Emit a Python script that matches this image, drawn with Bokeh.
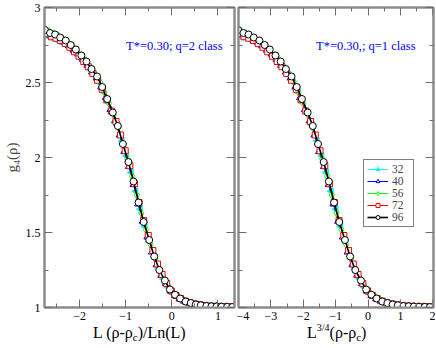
import math
from bokeh.plotting import figure
from bokeh.layouts import row, column
from bokeh.models import FixedTicker, LinearAxis, Range1d, Label, Legend, LegendItem, Div, Spacer
from bokeh.embed import file_html
from bokeh.resources import INLINE

SERIF = "Liberation Serif"
GRAY = "#8c8c8c"
TICK = "#6e6e6e"

# system sizes (legend)
sizes = [32, 40, 56, 72, 96]

# x values in the left-panel variable  L(rho-rho_c)/Ln(L)
x32 = [-2.78, -2.68, -2.58, -2.48, -2.38, -2.28, -2.18, -2.08, -1.98, -1.88, -1.78, -1.68, -1.58, -1.48,
       -1.38, -1.28, -1.18, -1.08, -0.98, -0.88, -0.78, -0.68, -0.58, -0.48, -0.38, -0.28, -0.18, -0.08,
       0.02, 0.12, 0.22, 0.32, 0.42, 0.52, 0.62, 0.72, 0.82, 0.92, 1.02, 1.12, 1.22, 1.32]
y32 = [2.82, 2.805, 2.795, 2.78, 2.765, 2.745, 2.72, 2.695, 2.665, 2.63, 2.59, 2.55, 2.50, 2.435,
       2.365, 2.29, 2.215, 2.11, 2.01, 1.90, 1.775, 1.655, 1.54, 1.44, 1.34, 1.255, 1.19, 1.135,
       1.095, 1.07, 1.05, 1.035, 1.025, 1.018, 1.013, 1.01, 1.008, 1.006, 1.005, 1.004, 1.003, 1.003]

x40 = [-2.73, -2.63, -2.53, -2.43, -2.33, -2.23, -2.13, -2.03, -1.93, -1.83, -1.73, -1.63, -1.53, -1.43,
       -1.33, -1.23, -1.13, -1.03, -0.93, -0.83, -0.73, -0.63, -0.53, -0.43, -0.33, -0.23, -0.13, -0.03,
       0.07, 0.17, 0.27, 0.37, 0.47, 0.57, 0.67, 0.77, 0.87, 0.97, 1.07, 1.17, 1.27]
y40 = [2.83, 2.815, 2.805, 2.79, 2.77, 2.745, 2.715, 2.69, 2.655, 2.615, 2.57, 2.53, 2.47, 2.40,
       2.32, 2.245, 2.15, 2.04, 1.94, 1.82, 1.69, 1.575, 1.47, 1.37, 1.285, 1.215, 1.16, 1.11,
       1.08, 1.058, 1.042, 1.031, 1.023, 1.017, 1.013, 1.01, 1.008, 1.006, 1.005, 1.004, 1.003]

x56 = [-2.76, -2.66, -2.56, -2.46, -2.36, -2.26, -2.16, -2.06, -1.96, -1.86, -1.76, -1.66, -1.56, -1.46,
       -1.36, -1.26, -1.16, -1.06, -0.96, -0.86, -0.76, -0.66, -0.56, -0.46, -0.36, -0.26, -0.16, -0.06,
       0.04, 0.14, 0.24, 0.34, 0.44, 0.54, 0.64, 0.74, 0.84, 0.94, 1.04, 1.14, 1.24, 1.34]
y56 = [2.86, 2.84, 2.825, 2.81, 2.79, 2.77, 2.74, 2.71, 2.68, 2.645, 2.60, 2.555, 2.505, 2.435,
       2.36, 2.285, 2.20, 2.09, 1.99, 1.875, 1.75, 1.63, 1.52, 1.42, 1.325, 1.245, 1.185, 1.13,
       1.093, 1.07, 1.05, 1.037, 1.027, 1.02, 1.015, 1.011, 1.008, 1.006, 1.005, 1.004, 1.003, 1.003]

x72 = [-2.71, -2.61, -2.51, -2.41, -2.31, -2.21, -2.11, -2.01, -1.91, -1.81, -1.71, -1.61, -1.51, -1.41,
       -1.31, -1.21, -1.11, -1.01, -0.91, -0.81, -0.71, -0.61, -0.51, -0.41, -0.31, -0.21, -0.11, -0.01,
       0.09, 0.19, 0.29, 0.39, 0.49, 0.59, 0.69, 0.79, 0.89, 0.99, 1.09, 1.19, 1.29]
y72 = [2.825, 2.805, 2.795, 2.78, 2.76, 2.735, 2.705, 2.675, 2.64, 2.605, 2.56, 2.515, 2.455, 2.385,
       2.31, 2.24, 2.15, 2.045, 1.945, 1.825, 1.70, 1.58, 1.48, 1.38, 1.29, 1.22, 1.16, 1.11,
       1.08, 1.06, 1.043, 1.032, 1.024, 1.018, 1.013, 1.01, 1.008, 1.006, 1.005, 1.004, 1.003]

x96 = [-2.75, -2.64, -2.53, -2.42, -2.30, -2.19, -2.08, -1.96, -1.85, -1.74, -1.62, -1.51, -1.40, -1.28,
       -1.17, -1.06, -0.94, -0.83, -0.72, -0.61, -0.49, -0.38, -0.27, -0.15, -0.04, 0.07, 0.18, 0.30,
       0.41, 0.52, 0.63, 0.75, 0.86, 0.97, 1.08, 1.20, 1.31]
y96 = [2.85, 2.83, 2.82, 2.80, 2.78, 2.75, 2.72, 2.68, 2.64, 2.59, 2.54, 2.47, 2.39, 2.30,
       2.21, 2.09, 1.97, 1.84, 1.70, 1.57, 1.45, 1.34, 1.25, 1.18, 1.12, 1.085, 1.06, 1.04,
       1.03, 1.02, 1.015, 1.01, 1.008, 1.006, 1.005, 1.004, 1.003]

xs_left = [x32, x40, x56, x72, x96]
ys = [y32, y40, y56, y72, y96]

colors = ["#00ffff", "#0000ff", "#00ff00", "#ff0000", "#000000"]
markers = ["triangle", "triangle", "diamond", "square", "circle"]
angles = [math.pi / 2, 0, 0, 0, 0]
fills = ["#00ffff", "white", "white", "white", "white"]
msizes = [7, 7, 8, 6, 7]
lwidths = [1, 1, 1, 1, 1.6]

y_ticks = [1, 1.5, 2, 2.5, 3]
y_minor = [1.25, 1.75, 2.25, 2.75]
y_labels = {1: "1", 1.5: "1.5", 2: "2", 2.5: "2.5", 3: "3"}
xl_ticks = [-2, -1, 0, 1]
xl_minor = [-2.5, -1.5, -0.5, 0.5]
xr_ticks = [-4, -3, -2, -1, 0, 1, 2]
xr_minor = [-3.5, -2.5, -1.5, -0.5, 0.5, 1.5]


def style_axis(ax, ticks, minor, show_labels, overrides=None):
    ax.ticker = FixedTicker(ticks=ticks, minor_ticks=minor)
    ax.axis_line_color = GRAY
    ax.axis_line_width = 2
    ax.major_tick_line_color = TICK
    ax.minor_tick_line_color = TICK
    ax.major_tick_in = 8
    ax.major_tick_out = 0
    ax.minor_tick_in = 4
    ax.minor_tick_out = 0
    ax.major_label_text_font = SERIF
    ax.major_label_text_font_size = "12px"
    ax.major_label_text_color = "black"
    ax.major_label_standoff = 4
    if overrides:
        ax.major_label_overrides = overrides
    if not show_labels:
        ax.major_label_text_color = None


FRAME_TOP = 7
FRAME_H = 300
BOTTOM = 18
FH = FRAME_TOP + FRAME_H + BOTTOM


def make_fig(width, xr, bl, br, xt, xm, left_labels):
    p = figure(width=width, height=FH, x_range=xr, y_range=Range1d(1, 3),
               output_backend="svg", toolbar_location=None,
               min_border_left=bl, min_border_right=br, min_border_top=FRAME_TOP,
               min_border_bottom=BOTTOM)
    p.xgrid.visible = False
    p.ygrid.visible = False
    p.outline_line_color = GRAY
    p.outline_line_width = 2
    p.background_fill_color = "white"
    p.border_fill_color = "white"
    style_axis(p.xaxis[0], xt, xm, True)
    style_axis(p.yaxis[0], y_ticks, y_minor, left_labels, y_labels)
    top = LinearAxis()
    style_axis(top, xt, xm, False)
    p.add_layout(top, "above")
    right = LinearAxis()
    style_axis(right, y_ticks, y_minor, False)
    p.add_layout(right, "right")
    return p


p1 = make_fig(236, Range1d(-2.76, 1.36), 40, 2, xl_ticks, xl_minor, True)
p2 = make_fig(199, Range1d(-4.0, 2.02), 2, 2, xr_ticks, xr_minor, False)

p1.yaxis[0].axis_label = "g₄(ρ)"
p1.yaxis[0].axis_label_text_font = SERIF
p1.yaxis[0].axis_label_text_font_size = "15px"
p1.yaxis[0].axis_label_text_font_style = "normal"
p1.yaxis[0].axis_label_standoff = 3

items = []
for i, L in enumerate(sizes):
    xl = xs_left[i]
    xr = [v * math.log(L) / L ** 0.25 for v in xl]   # L^(3/4)(rho-rho_c)
    for p, xx in ((p1, xl), (p2, xr)):
        ln = p.line(xx, ys[i], line_color=colors[i], line_width=lwidths[i])
        sc = p.scatter(xx, ys[i], marker=markers[i], angle=angles[i], size=msizes[i],
                       line_color=colors[i], fill_color=fills[i], line_width=1)
        if p is p2:
            items.append(LegendItem(label=str(L), renderers=[ln, sc]))

legend = Legend(items=items, location=(125, 80), label_text_font=SERIF, label_text_font_size="11.5px",
                glyph_width=21, glyph_height=10, label_height=10, label_width=18, spacing=0,
                padding=3, margin=0, label_standoff=4,
                border_line_color="black", border_line_width=1,
                background_fill_color="white", background_fill_alpha=1)
p2.add_layout(legend)

# panel annotations (screen units relative to the frame)
p1.add_layout(Label(x=178, y=FRAME_H - 38, x_units="screen", y_units="screen",
                    text="T*=0.30; q=2 class", text_align="right", text_baseline="middle",
                    text_color="#0000ff", text_font=SERIF, text_font_size="12.5px"))
p2.add_layout(Label(x=177, y=FRAME_H - 38, x_units="screen", y_units="screen",
                    text="T*=0.30,; q=1 class", text_align="right", text_baseline="middle",
                    text_color="#0000ff", text_font=SERIF, text_font_size="12.5px"))

# x titles as HTML text below the panels
TSTYLE = {"font-family": SERIF, "font-size": "16px", "line-height": "16px", "color": "black",
          "white-space": "nowrap"}
SUB = '<sub style="font-size:11px;line-height:0;vertical-align:-3px">c</sub>'
SUP = '<sup style="font-size:10px;line-height:0;vertical-align:7px">3/4</sup>'
t_left = Div(text=f"L (ρ-ρ{SUB})/Ln(L)", width=214, height=22, margin=0, styles=TSTYLE)
t_right = Div(text=f"L{SUP}(ρ-ρ{SUB})", width=128, height=22, margin=0, styles=TSTYLE)
titles = row(Spacer(width=93, height=22, margin=0), t_left, t_right, margin=0)

layout = column(row(p1, p2, margin=0), titles, margin=0)
open("out.html", "w").write(file_html(layout, INLINE))
